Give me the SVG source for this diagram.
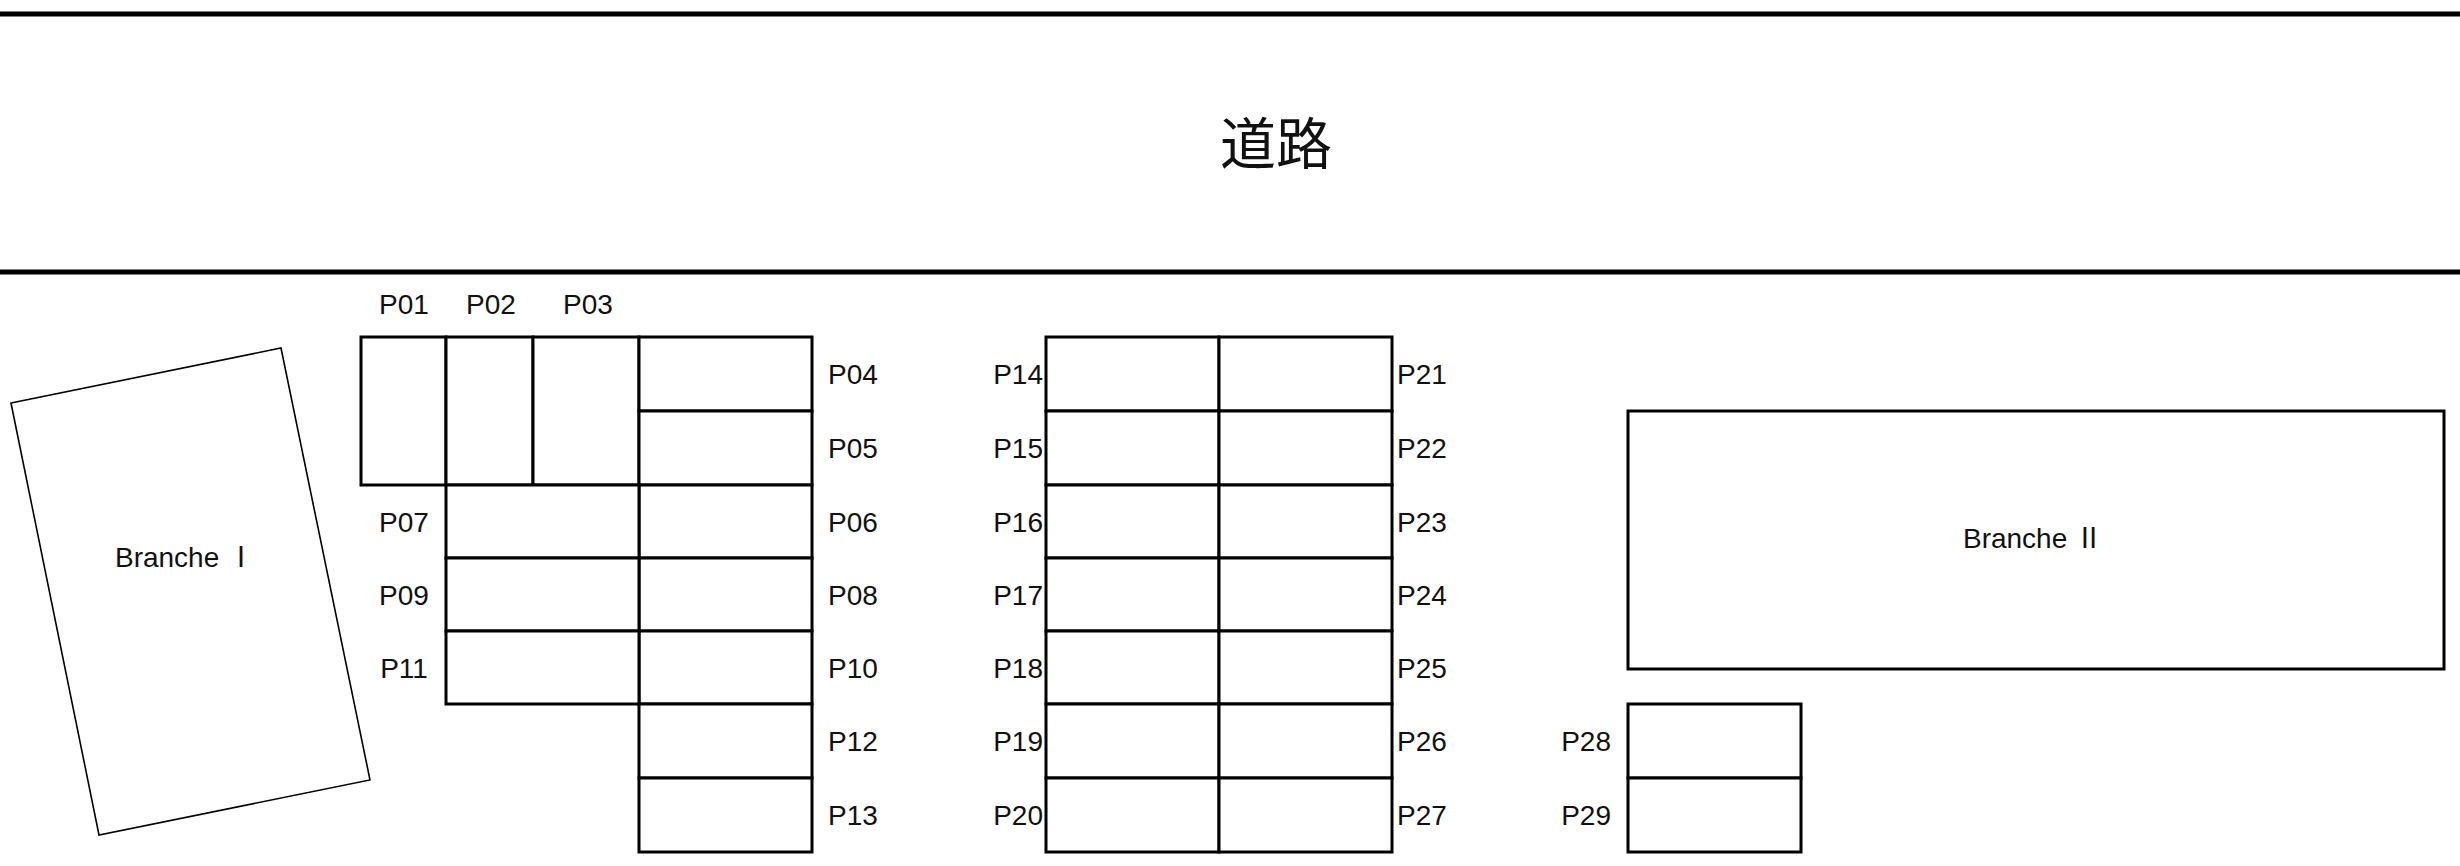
<svg xmlns="http://www.w3.org/2000/svg" width="2460" height="866" viewBox="0 0 2460 866">
<style>
.c{fill:#fff;stroke:#000;stroke-width:3}
.t{font-family:"Liberation Sans","Noto Sans CJK JP",sans-serif;font-size:28px;fill:#111}
.j{font-family:"Noto Sans CJK JP",sans-serif}
.l{text-anchor:start}
.r{text-anchor:end}
.m{text-anchor:middle}
</style>
<rect width="2460" height="866" fill="#fff"/>
<g id="road">
<line x1="0" y1="14" x2="2460" y2="14" stroke="#000" stroke-width="5"/>
<line x1="0" y1="272" x2="2460" y2="272" stroke="#000" stroke-width="5"/>
<text class="t m j" x="1276" y="164" style="font-size:56px">道路</text>
</g>
<g id="branche1">
<polygon points="11,403 281,348 370,780 99,835" fill="#fff" stroke="#000" stroke-width="1.6"/>
<text class="t m" x="185" y="567">Branche <tspan class="j">Ⅰ</tspan></text>
</g>
<g id="branche2">
<rect class="c" x="1628" y="411" width="816" height="258"/>
<text class="t m" x="2033" y="548">Branche <tspan class="j">Ⅱ</tspan></text>
</g>
<g id="left">
<rect class="c" x="361" y="337" width="85" height="148"/>
<rect class="c" x="446" y="337" width="87" height="148"/>
<rect class="c" x="533" y="337" width="106" height="148"/>
<rect class="c" x="639" y="337" width="173" height="74"/>
<rect class="c" x="639" y="411" width="173" height="74"/>
<rect class="c" x="639" y="485" width="173" height="73"/>
<rect class="c" x="639" y="558" width="173" height="73"/>
<rect class="c" x="639" y="631" width="173" height="73"/>
<rect class="c" x="639" y="704" width="173" height="74"/>
<rect class="c" x="639" y="778" width="173" height="74"/>
<rect class="c" x="446" y="485" width="193" height="73"/>
<rect class="c" x="446" y="558" width="193" height="73"/>
<rect class="c" x="446" y="631" width="193" height="73"/>
<text class="t m" x="404" y="314">P01</text>
<text class="t m" x="491" y="314">P02</text>
<text class="t m" x="588" y="314">P03</text>
<text class="t l" x="828" y="384">P04</text>
<text class="t l" x="828" y="458">P05</text>
<text class="t l" x="828" y="532">P06</text>
<text class="t l" x="828" y="605">P08</text>
<text class="t l" x="828" y="678">P10</text>
<text class="t l" x="828" y="751">P12</text>
<text class="t l" x="828" y="825">P13</text>
<text class="t m" x="404" y="532">P07</text>
<text class="t m" x="404" y="605">P09</text>
<text class="t m" x="404" y="678">P11</text>
</g>
<g id="middle">
<rect class="c" x="1046" y="337" width="173" height="74"/><rect class="c" x="1219" y="337" width="173" height="74"/>
<rect class="c" x="1046" y="411" width="173" height="74"/><rect class="c" x="1219" y="411" width="173" height="74"/>
<rect class="c" x="1046" y="485" width="173" height="73"/><rect class="c" x="1219" y="485" width="173" height="73"/>
<rect class="c" x="1046" y="558" width="173" height="73"/><rect class="c" x="1219" y="558" width="173" height="73"/>
<rect class="c" x="1046" y="631" width="173" height="73"/><rect class="c" x="1219" y="631" width="173" height="73"/>
<rect class="c" x="1046" y="704" width="173" height="74"/><rect class="c" x="1219" y="704" width="173" height="74"/>
<rect class="c" x="1046" y="778" width="173" height="74"/><rect class="c" x="1219" y="778" width="173" height="74"/>
<text class="t r" x="1043" y="384">P14</text>
<text class="t r" x="1043" y="458">P15</text>
<text class="t r" x="1043" y="532">P16</text>
<text class="t r" x="1043" y="605">P17</text>
<text class="t r" x="1043" y="678">P18</text>
<text class="t r" x="1043" y="751">P19</text>
<text class="t r" x="1043" y="825">P20</text>
<text class="t l" x="1397" y="384">P21</text>
<text class="t l" x="1397" y="458">P22</text>
<text class="t l" x="1397" y="532">P23</text>
<text class="t l" x="1397" y="605">P24</text>
<text class="t l" x="1397" y="678">P25</text>
<text class="t l" x="1397" y="751">P26</text>
<text class="t l" x="1397" y="825">P27</text>
</g>
<g id="right">
<rect class="c" x="1628" y="704" width="173" height="74"/>
<rect class="c" x="1628" y="778" width="173" height="74"/>
<text class="t r" x="1611" y="751">P28</text>
<text class="t r" x="1611" y="825">P29</text>
</g>
<g id="connectors"/>
</svg>
